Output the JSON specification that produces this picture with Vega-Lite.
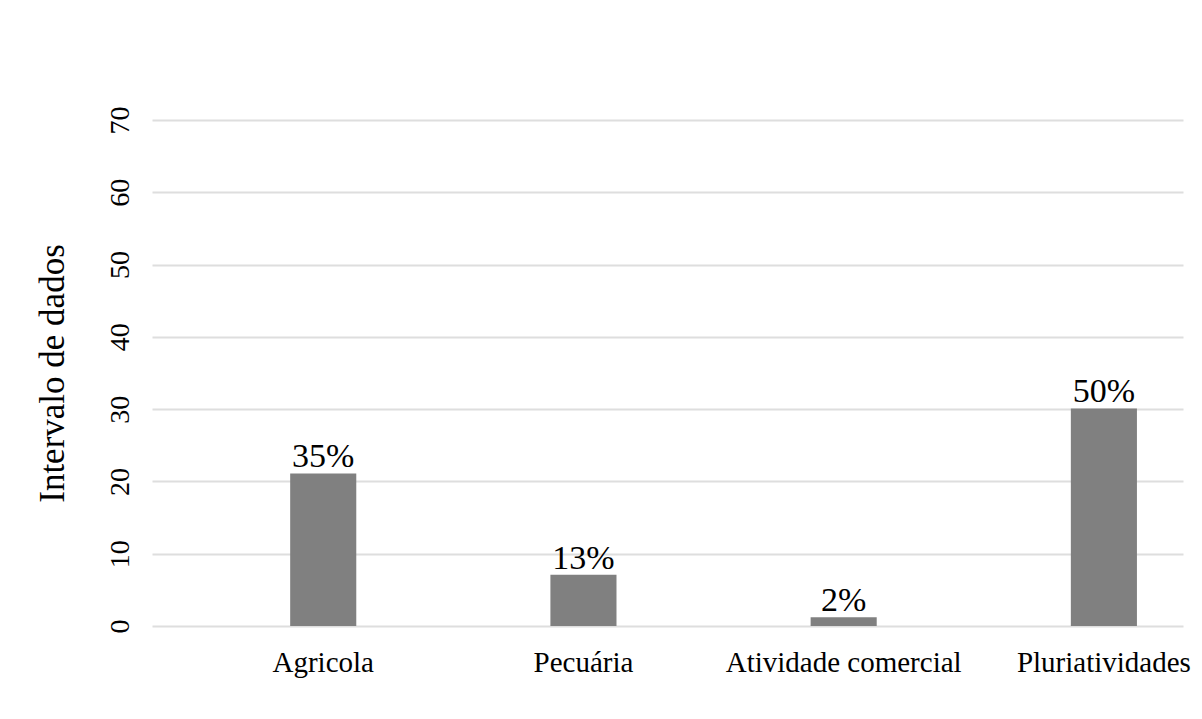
{
  "$schema": "https://vega.github.io/schema/vega-lite/v6.json",
  "autosize": "none",
  "width": 1031,
  "height": 506,
  "padding": {"left": 152, "top": 120, "right": 19, "bottom": 93},
  "background": "white",
  "config": {"view": {"stroke": null}, "font": "Liberation Serif"},
  "data": {"values": [
    {"categoria": "Agricola", "valor": 21.1, "rotulo": "35%"},
    {"categoria": "Pecuária", "valor": 7.1, "rotulo": "13%"},
    {"categoria": "Atividade comercial", "valor": 1.2, "rotulo": "2%"},
    {"categoria": "Pluriatividades", "valor": 30.1, "rotulo": "50%"}
  ]},
  "encoding": {
    "x": {"field": "categoria", "type": "nominal", "sort": null,
      "scale": {"paddingInner": 0.746, "paddingOuter": 0.354, "align": 0.75},
      "axis": {"title": null, "labelAngle": 0, "domain": false, "ticks": false, "grid": false,
        "labelLimit": 0, "labelOverlap": false, "labelBound": false,
        "labelFont": "Liberation Serif", "labelFontSize": 29, "labelColor": "#000000", "labelPadding": 22}},
    "y": {"field": "valor", "type": "quantitative",
      "scale": {"domain": [0, 70], "nice": false},
      "axis": {"title": "Intervalo de dados", "values": [0,10,20,30,40,50,60,70],
        "domain": false, "ticks": false, "grid": true, "gridColor": "#dedede", "gridWidth": 2,
        "labelAngle": -90, "labelAlign": "center", "labelBaseline": "alphabetic", "labelPadding": 24,
        "labelFont": "Liberation Serif", "labelFontSize": 28, "labelColor": "#000000",
        "titleFont": "Liberation Serif", "titleFontSize": 35, "titleFontWeight": "normal", "titleColor": "#000000",
        "titlePadding": 36}}
  },
  "layer": [
    {"mark": {"type": "bar", "color": "#808080"}},
    {"mark": {"type": "text", "baseline": "alphabetic", "dy": -6, "fontSize": 34, "font": "Liberation Serif", "color": "#000000"},
     "encoding": {"text": {"field": "rotulo"}}}
  ]
}
